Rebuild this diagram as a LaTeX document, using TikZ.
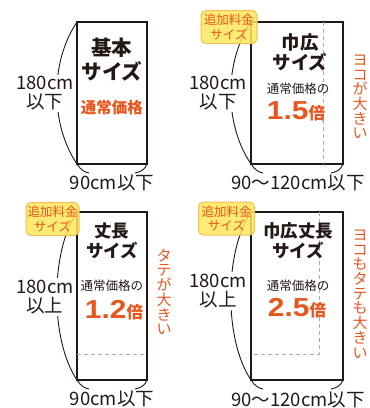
\documentclass[tikz,border=0pt]{standalone}
\usepackage{fontspec}
\usepackage{graphicx}
\usepackage{xcolor}
\usepackage{tikz}
\usetikzlibrary{positioning}
\setmainfont{Noto Sans CJK JP}
\newfontfamily\numfont{Liberation Sans}
\definecolor{orng}{HTML}{E8561E}
\definecolor{badgeY}{HTML}{FFE75A}
\definecolor{badgeB}{HTML}{F5BE55}
\definecolor{dashgray}{HTML}{ABABAB}
\definecolor{ink}{HTML}{231815}
\newcommand{\fsz}[2]{\fontsize{#1}{#2}\selectfont}
\newcommand{\bignum}[1]{{\numfont\bfseries\fsz{26}{26}\scalebox{1.15}[1]{#1}}{\bfseries\fsz{16.5}{16.5}倍}}

\begin{document}
\begin{tikzpicture}[x=1pt, y=-1pt, every node/.style={text=ink, inner sep=0pt},
		box/.style={draw=ink, line width=1.6pt, minimum width=#1, outer sep=0pt},
		arc/.style={draw=ink, line width=0.9pt},
		guide/.style={draw=dashgray, line width=1pt, dash pattern=on 4pt off 3pt},
		dim/.style={align=center, font=\fsz{18.5}{19}, fill=white, inner sep=2pt},
		width/.style={font=\fsz{18.5}{18.5}},
		heading/.style={align=center, font=\bfseries\fsz{#1}{20}},
		note/.style={font=\fsz{12.5}{12.5}},
		tate/.style={align=center, text=orng, font=\fsz{15}{14.7}},
		badge/.style={draw=badgeB, line width=1pt, fill=badgeY, fill opacity=0.85, text opacity=1, text=orng, rounded corners=5pt,
			minimum width=#1, minimum height=33pt, align=center, font=\fsz{12.5}{14.5}}]
				\useasboundingbox (0,0) rectangle (370,408);

				\node[box=70pt, minimum height=142pt] (r1) at (112,93) {};
				\node[box=92pt, minimum height=142pt] (r2) at (297,93) {};
				\node[box=70pt, minimum height=168pt] (r3) at (112,296) {};
				\node[box=92pt, minimum height=168pt] (r4) at (297,296) {};

				\coordinate (r1l) at (89,173);
				\coordinate (r1r) at (135,173);
				\coordinate (r2l) at (263,173);
				\coordinate (r2r) at (331,173);
				\coordinate (r3l) at (89,389);
				\coordinate (r3r) at (135,389);
				\coordinate (r4l) at (263,389);
				\coordinate (r4r) at (331,389);

				\draw[guide] (r2.north west) ++(72,0) -- ++(0,142);
				\draw[guide] (r3.south west) ++(0,-26) -- ++(70,0);
				\draw[guide] (r4.north west) ++(68,0) -- ++(0,142) -- ++(-68,0);

				\foreach \r in {r1,r2,r3,r4} {
					\draw[arc] (\r.north west) .. controls +(-27,40) and +(-27,-40) .. (\r.south west) .. controls +(4,6) and +(-5,-1) .. (\r l);
					\draw[arc] (\r.south east) .. controls +(-2,6) and +(5,-1) .. (\r r);
				}

				\node[dim] (h1) at (45,93.5) {180cm\\以下};
				\node[dim] (h2) at (218,93.5) {180cm\\以下};
				\node[dim] (h3) at (45,297) {180cm\\以上};
				\node[dim] (h4) at (218,291) {180cm\\以上};

				\node[width] (w1) at (112,182.5) {90cm以下};
				\node[width] (w2) at (298,183) {90〜120cm以下};
				\node[width] (w3) at (112,399) {90cm以下};
				\node[width] (w4) at (298,400) {90〜120cm以下};

				\node[heading=20, font=\bfseries\fsz{20.5}{24}] (t1) at (112,60) {基本\\サイズ};
				\node[text=orng, font=\bfseries\fsz{15.5}{15.5}] (p1) at (112,108) {通常価格};

				\node[heading=18.5] (t2) at (300,52) {巾広\\サイズ};
				\node[note] (n2) at (298,89) {通常価格の};
				\node[text=orng] (p2) at (296,111) {\bignum{1.5}};
				\node[tate] (v2) at (360,97) {ヨ\\コ\\が\\大\\き\\い};

				\node[heading=17.5] (t3) at (112,241) {丈長\\サイズ};
				\node[note] (n3) at (112,286) {通常価格の};
				\node[text=orng] (p3) at (114,310) {\bignum{1.2}};
				\node[tate] (v3) at (164,292) {タ\\テ\\が\\大\\き\\い};

				\node[heading=17.5] (t4) at (298,241) {巾広丈長\\サイズ};
				\node[note] (n4) at (298,286) {通常価格の};
				\node[text=orng] (p4) at (297,308) {\bignum{2.5}};
				\node[tate] (v4) at (360,294) {ヨ\\コ\\も\\タ\\テ\\も\\大\\き\\い};

				\node[badge=56pt] (b2) at (229,27) {追加料金\\サイズ};
				\node[badge=53pt] (b3) at (52.5,219) {追加料金\\サイズ};
				\node[badge=56pt] (b4) at (226.5,218.5) {追加料金\\サイズ};
			\end{tikzpicture}
\end{document}
